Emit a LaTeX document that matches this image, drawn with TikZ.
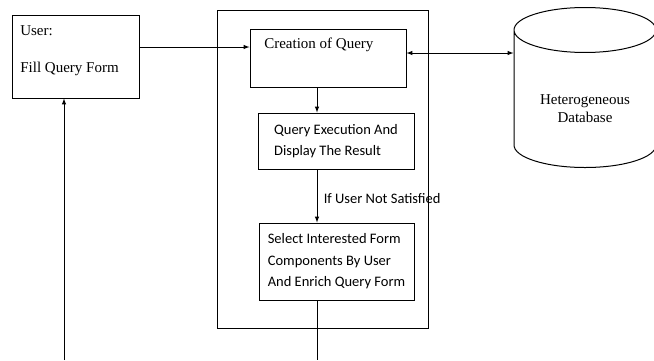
\documentclass[tikz,border=0pt]{standalone}
\usepackage{fontspec}
\setmainfont{Liberation Serif}
\newfontfamily\calibri{Carlito}
\usepackage{tikz}
\usetikzlibrary{arrows, positioning, shapes.geometric}

\begin{document}
\begin{tikzpicture}[x=1pt, y=-1pt, line width=1pt, >=latex,
  box/.style={rectangle, draw=black, inner sep=0pt},
  serif/.style={font=\fontsize{15}{18}\selectfont},
  sans/.style={font=\calibri\fontsize{14.5}{21.5}\selectfont, align=left}]
  \useasboundingbox (0, 0) rectangle (654, 360);

  \node[box, minimum width=211, minimum height=318] (frame) at (322.5, 169) {};
  \node[box, minimum width=127, minimum height=83,
    label={[serif, anchor=north west, align=left, xshift=5pt, yshift=-7pt]north west:{User:\\[19pt]Fill Query Form}}] (user) at (75.5, 56.5) {};
  \node[box, minimum width=156, minimum height=58,
    label={[serif, anchor=north west, xshift=11pt, yshift=-6pt]north west:{Creation of Query}}] (query) at (328, 58) {};
  \node[box, sans, minimum width=156, minimum height=56] (exec) at (336, 141) {Query Execution And\\Display The Result};
  \node[box, sans, minimum width=155, minimum height=77] (select) at (336.5, 261.5) {Select Interested Form\\Components By User\\And Enrich Query Form};
  \node[cylinder, draw=black, shape border rotate=90, aspect=0.5, minimum width=142, minimum height=160,
    inner sep=0pt, anchor=shape center, align=center, serif,
    label={[serif, align=center, yshift=-10pt]center:{Heterogeneous\\Database}}] (db) at (585, 87.5)
    {\phantom{Heterogeneous}\\\phantom{Database}};
  \node[sans, anchor=west] (cond) at (320, 199) {If User Not Satisfied};

  \coordinate (spine) at (317, 0);
  \coordinate (toprow) at (0, 47);
  \coordinate (dbrow) at (0, 53);
  \coordinate (back) at (64, 360);

  \draw[->] (user.east |- toprow) -- (query.west |- toprow);
  \draw[<->] (query.east |- dbrow) -- (db.180 |- dbrow);
  \draw[->] (spine |- query.south) -- (spine |- exec.north);
  \draw[->] (spine |- exec.south) -- (spine |- select.north);
  \draw (spine |- select.south) -- (spine |- back);
  \draw[->] (back) -- (back |- user.south);
\end{tikzpicture}
\end{document}
